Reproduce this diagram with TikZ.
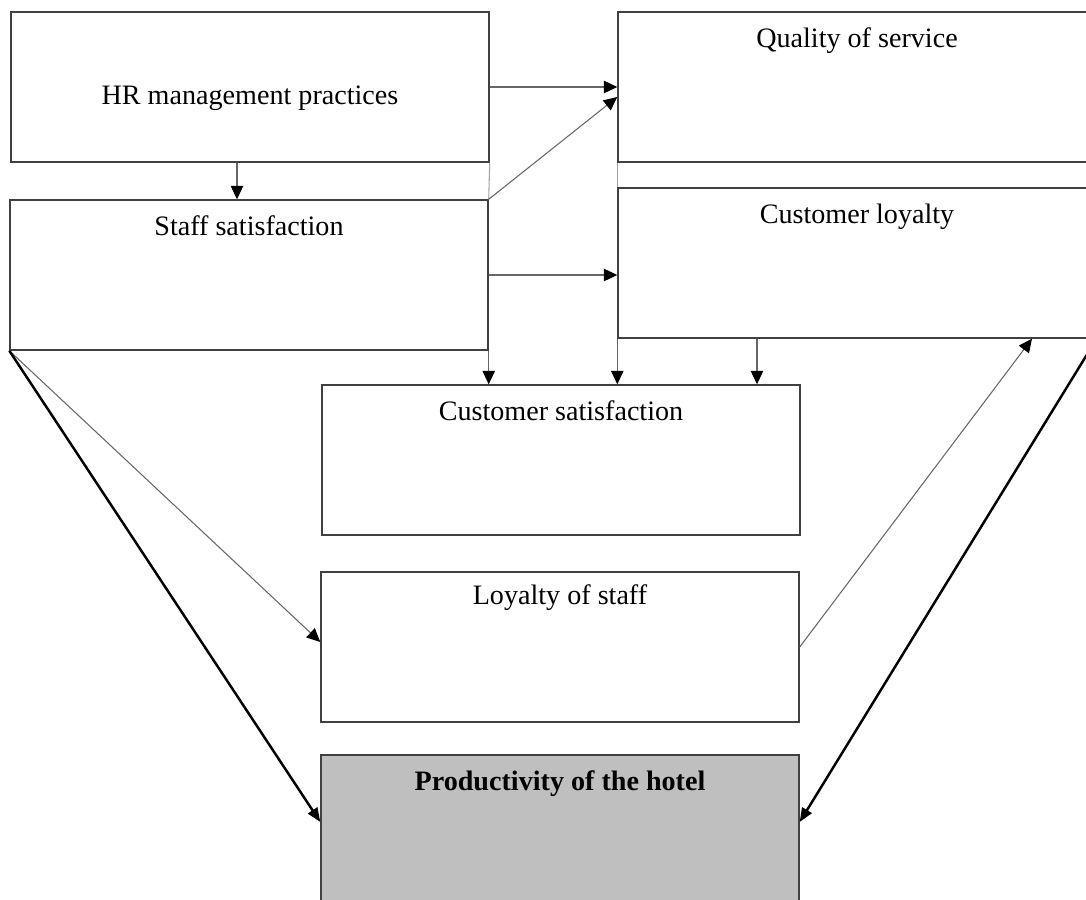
\documentclass[tikz,border=0pt]{standalone}
\usepackage{fontspec}
\setmainfont{Liberation Serif}
\usetikzlibrary{arrows.meta}
\colorlet{hotline}{black!75}
\colorlet{hotthin}{black!60}
\colorlet{hotgray}{black!25}
\tikzset{
  hotstage/.style={
    draw=hotline,
    line width=0.8pt,
    inner sep=0pt,
    minimum width=95.6mm,
    font=\fontsize{16}{19}\selectfont
  },
  hottop/.style={hotstage,text height=7mm,text depth=23mm},
  hotmid/.style={hotstage,text height=18.4mm,text depth=11.6mm},
  hotresult/.style={hottop,fill=hotgray,font=\fontsize{16}{19}\selectfont\bfseries},
  hotflow/.style={-{Triangle[length=2.7mm,width=2.5mm,color=black]},line width=0.6pt,hotthin},
  hotstrong/.style={-{Triangle[length=2.8mm,width=2.2mm]},line width=1.4pt,black},
  hotjoin/.style={line width=0.6pt,hotthin!60}
}

\begin{document}
\begin{tikzpicture}[x=0.2mm,y=-0.2mm]
  \useasboundingbox (0,0) rectangle (1086,900);

  \node[hotmid] (hr) at (250,87) {HR management practices};
  \node[hottop] (quality) at (857,87) {Quality of service};
  \node[hottop] (staffsat) at (249,275) {Staff satisfaction};
  \node[hottop] (loyalty) at (857,263) {Customer loyalty};
  \node[hottop] (custsat) at (561,460) {Customer satisfaction};
  \node[hottop,text height=6.4mm,text depth=23.6mm] (staffloy) at (560,647)
    {Loyalty of staff};
  \node[hotresult] (hotel) at (560,830) {Productivity of the hotel};

  % links between the upper boxes
  \draw[hotjoin] (hr.south east) -- (staffsat.north east);
  \draw[hotjoin] (quality.south west) -- (loyalty.north west);
  \draw[hotflow] ([xshift=-2.6mm]hr.south) -- ([xshift=-2.6mm]hr.south |- staffsat.north);
  \draw[hotflow] (hr.east) -- (hr.east -| quality.west);
  \draw[hotflow] (staffsat.north east) -- ([yshift=-2mm]quality.west);
  \draw[hotflow] (staffsat.east) -- (staffsat.east -| loyalty.west);

  % into customer satisfaction
  \draw[hotflow] (staffsat.south east) -- (staffsat.south east |- custsat.north);
  \draw[hotflow] (loyalty.south west) -- (loyalty.south west |- custsat.north);
  \draw[hotflow] ([xshift=-20mm]loyalty.south) -- ([xshift=-20mm]loyalty.south |- custsat.north);

  % lower part
  \draw[hotflow] (staffsat.south west) -- ([yshift=1mm]staffloy.west);
  \draw[hotflow] (staffloy.east) -- ([xshift=35mm]loyalty.south);
  \draw[hotstrong] (staffsat.south west) -- ([yshift=1.6mm]hotel.west);
  \draw[hotstrong] (loyalty.south east) -- ([yshift=1.6mm]hotel.east);
\end{tikzpicture}
\end{document}
